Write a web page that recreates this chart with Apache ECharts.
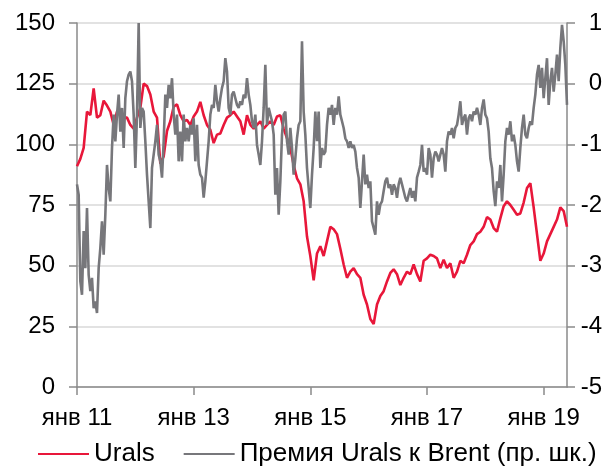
<!DOCTYPE html>
<html>
<head>
<meta charset="utf-8">
<script src="https://cdn.jsdelivr.net/npm/echarts@6/dist/echarts.min.js"></script>
<style>
  html, body { margin: 0; padding: 0; background: #fff; }
  #chart { width: 613px; height: 468px; }
</style>
</head>
<body>
<div id="chart"></div>
<script>
// Urals price, USD/bbl, evenly spaced from Jan 2011 to late May 2019
const uralsPrice = [
  91, 94, 98.5, 113.5, 112, 123, 111, 112, 118, 116, 113.5, 108, 113.5, 112, 111, 111, 108, 106.5, 111, 115, 125, 124, 120.5, 113.5,
  111, 92, 95, 105.5, 109.5, 115.5, 116.5, 112, 109.5, 110, 108, 111.5, 113.5, 117.5, 112, 108, 106, 100.5, 104, 104.5, 108, 111, 112, 113.5, 111.5,
  109.5, 104, 112, 108, 106.5, 108, 109.5, 106.5, 108, 109.5, 108, 111.5, 112, 106.5, 102.5, 98.5, 91.5, 86, 83.5, 76.5, 62, 54, 44, 55, 58, 54,
  60, 66, 65, 63, 57, 50.5, 45, 47.5, 49, 46.5, 45, 38, 34, 28, 26, 34, 37.5, 39.5, 43.5, 47, 48.5, 46.5, 42, 45, 47.5,
  46.5, 50.5, 46.5, 43.5, 52, 53, 54.5, 54, 53, 49, 52.5, 49, 51, 45, 47.5, 52, 51, 54.5, 58.5, 60, 63, 64, 66, 70, 69, 65.5,
  64, 69.5, 74.5, 76.5, 75, 73, 71, 71.5, 76, 82, 84, 74, 63, 52, 55, 60, 63, 66, 69, 74, 72.5, 66
];

// Urals premium to Brent, USD/bbl (right scale), evenly spaced over the same period
const uralsPremium = [
  -1.66, -1.83, -3.26, -3.48, -2.43, -3.04, -2.05, -3.15, -3.42, -3.20, -3.70, -3.59, -3.78, -3.04, -2.71, -2.27, -2.82, -2.16, -1.34, -1.72,
  -1.94, -1.06, -0.51, -0.95, -0.51, -0.18, -0.79, -0.40, -1.06, -0.24, 0.04, 0.15, 0.20, 0.04, -0.51, -1.39, -0.51, 1.0, -0.73, -0.40,
  -0.46, -0.95, -1.50, -1.94, -2.38, -1.39, -1.17,
  -0.95, -0.68, -1.17, -1.28, -1.55, -0.95, -0.18, -0.40, -0.02, -0.24, 0.09, -0.51, -0.84, -0.51, -1.28, -0.79, -1.28, -0.51, -0.95, -0.73,
  -0.95, -0.68, -0.84, -0.57, -1.28, -0.68, -1.34, -1.50, -1.55, -1.88, -1.61, -1.28, -0.95, -0.51, -0.35, -0.40, -0.02, -0.29, -0.46, -0.24,
  -0.07, 0.04, 0.42, 0.20, -0.40, -0.51, -0.18, -0.13, -0.24, -0.35, -0.40,
  -0.29, -0.35, -0.18, -0.24, 0.09, -0.18, -0.35, -0.62, -0.73, -0.51, -1.01, -1.17, -1.34, -0.95, -0.40, 0.31, -0.68, -0.40, -0.51, -0.62,
  -0.84, -1.83, -1.39, -2.16, -1.61, -0.84, -0.51, -0.46, -0.95, -1.17, -0.73, -1.06, -1.50, -1.23, -0.90, -0.68, -0.62, 0.70, -0.46, -0.84,
  -1.39, -1.72, -2.05, -1.50, -1.06, -0.46, -0.95, -0.46, -1.39, -1.06, -1.17,
  -1.12, -0.68, -0.40, -0.51, -0.35, -0.68, -0.40, -0.51, -0.21, -0.51, -0.62, -0.73, -0.90, -0.95, -1.06, -0.95, -1.06, -1.01, -1.12, -1.39,
  -1.55, -2.05, -1.61, -1.17, -1.66, -1.50, -1.72, -1.61, -2.27, -2.38, -2.49, -1.94, -2.16, -1.99, -1.94, -1.77, -1.61, -1.55, -1.72, -1.66,
  -1.83, -1.66, -1.72, -1.88, -1.66, -1.55, -1.66, -1.77, -1.88, -1.94, -1.83,
  -1.72, -1.88, -1.77, -1.94, -1.55, -1.45, -1.34, -1.01, -1.45, -1.39, -1.50, -1.06, -1.17, -1.55, -1.23, -1.12, -1.17, -1.28, -1.17, -1.06,
  -1.17, -1.45, -0.95, -0.79, -0.84, -0.73, -0.90, -0.73, -0.68, -0.51, -0.29, -0.68, -0.57, -0.51, -0.84, -0.57, -0.51, -0.62, -0.46, -0.51,
  -0.40, -0.51, -0.68, -0.40, -0.26, -0.51, -0.57, -0.79, -1.23, -1.39, -1.77,
  -2.02, -1.61, -1.72, -1.34, -1.94, -1.50, -0.95, -0.73, -0.84, -0.62, -0.95, -0.84, -1.01, -1.28, -1.45, -1.06, -0.73, -0.51, -0.84, -0.90,
  -0.73, -0.62, -0.68, -0.40, -0.18, 0.15, 0.31, -0.07, 0.26, -0.24, 0.09, 0.42, -0.35, 0.04, 0.26, -0.13, 0.15, 0.48, 0.04, 0.59,
  0.97, 0.70, 0.31, -0.35
];

// Time span, in years counted from January 2011
const spanYears = 8.4;
const firstYear = 11;
const yearTicks = [0, 2, 4, 6, 8];

const seriesNames = ['Urals', 'Премия Urals к Brent (пр. шк.)'];
const leftTicks = { min: 0, max: 150, step: 25 };
const rightTicks = { min: -5, max: 1, step: 1 };

// spread a series evenly over the time span
function spread(values) {
  const n = values.length;
  return values.map((v, i) => [i * spanYears / (n - 1), v]);
}

const FONT = "'Liberation Sans', Arial, sans-serif";
const axisColor = '#8a8a8a';

const chart = echarts.init(document.getElementById('chart'), null, { renderer: 'canvas' });
chart.setOption({
  animation: false,
  backgroundColor: '#ffffff',
  grid: { left: 77, right: 46, top: 23, bottom: 81, containLabel: false },
  legend: {
    left: 38,
    top: 441,
    padding: 0,
    itemWidth: 51,
    itemHeight: 2,
    itemGap: 29,
    icon: 'rect',
    textStyle: { fontFamily: FONT, fontSize: 26, color: '#000' },
    data: seriesNames
  },
  xAxis: {
    type: 'value',
    min: 0,
    max: spanYears,
    axisLine: { show: true, lineStyle: { color: axisColor, width: 1.5 } },
    axisTick: { show: true, length: 8, customValues: yearTicks, lineStyle: { color: axisColor, width: 1.5 } },
    axisLabel: {
      customValues: yearTicks,
      margin: 19,
      fontFamily: FONT, fontSize: 24, color: '#000',
      formatter: v => 'янв ' + (firstYear + Math.round(v))
    },
    splitLine: { show: false }
  },
  yAxis: [
    {
      type: 'value',
      position: 'left',
      min: leftTicks.min, max: leftTicks.max, interval: leftTicks.step,
      axisLine: { show: true, lineStyle: { color: axisColor, width: 1.5 } },
      axisTick: { show: true, length: 8, lineStyle: { color: axisColor, width: 1.5 } },
      axisLabel: { margin: 22, fontFamily: FONT, fontSize: 24, color: '#000' },
      splitLine: { show: true, lineStyle: { color: '#d9d9d9', width: 1.5 } }
    },
    {
      type: 'value',
      position: 'right',
      min: rightTicks.min, max: rightTicks.max, interval: rightTicks.step,
      axisLine: { show: true, lineStyle: { color: axisColor, width: 1.5 } },
      axisTick: { show: true, length: 8, lineStyle: { color: axisColor, width: 1.5 } },
      axisLabel: { margin: 35, align: 'right', fontFamily: FONT, fontSize: 24, color: '#000' },
      splitLine: { show: false }
    }
  ],
  series: [
    {
      name: seriesNames[0],
      type: 'line',
      yAxisIndex: 0,
      showSymbol: false,
      symbol: 'none',
      color: '#e8173a',
      lineStyle: { width: 2.6, color: '#e8173a' },
      data: spread(uralsPrice)
    },
    {
      name: seriesNames[1],
      type: 'line',
      yAxisIndex: 1,
      showSymbol: false,
      symbol: 'none',
      color: '#77777b',
      lineStyle: { width: 2.6, color: '#77777b' },
      data: spread(uralsPremium)
    }
  ]
});
</script>
</body>
</html>
